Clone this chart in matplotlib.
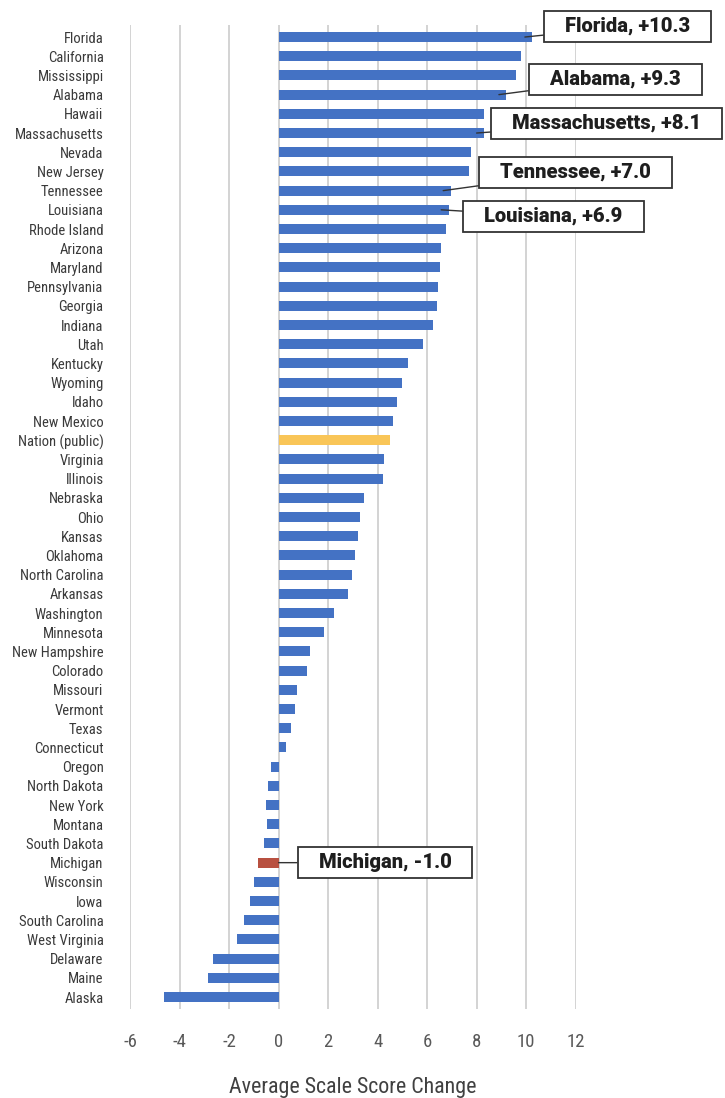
import matplotlib.pyplot as plt
from matplotlib import font_manager
import numpy as np

# states ordered top to bottom
states = ["Florida", "California", "Mississippi", "Alabama", "Hawaii", "Massachusetts",
          "Nevada", "New Jersey", "Tennessee", "Louisiana", "Rhode Island", "Arizona",
          "Maryland", "Pennsylvania", "Georgia", "Indiana", "Utah", "Kentucky", "Wyoming",
          "Idaho", "New Mexico", "Nation (public)", "Virginia", "Illinois", "Nebraska",
          "Ohio", "Kansas", "Oklahoma", "North Carolina", "Arkansas", "Washington",
          "Minnesota", "New Hampshire", "Colorado", "Missouri", "Vermont", "Texas",
          "Connecticut", "Oregon", "North Dakota", "New York", "Montana", "South Dakota",
          "Michigan", "Wisconsin", "Iowa", "South Carolina", "West Virginia", "Delaware",
          "Maine", "Alaska"]
changes = [10.25, 9.8, 9.6, 9.2, 8.3, 8.3,
           7.76, 7.7, 6.95, 6.87, 6.77, 6.57,
           6.53, 6.44, 6.4, 6.24, 5.84, 5.23, 4.99,
           4.79, 4.63, 4.51, 4.26, 4.22, 3.45,
           3.3, 3.2, 3.09, 2.97, 2.81, 2.24,
           1.84, 1.27, 1.15, 0.75, 0.67, 0.51,
           0.3, -0.3, -0.42, -0.51, -0.46, -0.59,
           -0.83, -0.99, -1.15, -1.39, -1.68, -2.65,
           -2.85, -4.63]

# callouts: state, text, box centre (data units)
callouts = [("Florida", "Florida, +10.3", 14.1, -0.55),
            ("Alabama", "Alabama, +9.3", 13.6, 2.2),
            ("Massachusetts", "Massachusetts, +8.1", 13.25, 4.5),
            ("Tennessee", "Tennessee, +7.0", 12.0, 7.05),
            ("Louisiana", "Louisiana, +6.9", 11.1, 9.35),
            ("Michigan", "Michigan, -1.0", 4.3, 43.0)]

blue = "#4472C4"
colors = [blue] * len(states)
colors[states.index("Nation (public)")] = "#F9C557"
colors[states.index("Michigan")] = "#B85040"

# pick a narrow face if one is around
fonts = font_manager.fontManager.ttflist
names = {f.name for f in fonts}
scale = 1.0
if "Roboto Condensed" in names:
    fam = "Roboto Condensed"
elif "Liberation Sans Narrow" in names:
    fam = "Liberation Sans Narrow"
else:
    fam = "Roboto"
    scale = 0.88
narrow = [fam, "DejaVu Sans"]
boxfont = ["Roboto", "DejaVu Sans"]

fig = plt.figure(figsize=(7.25, 10.98), dpi=100)
ax = fig.add_axes([0.1793, 0.081, 0.6147, 0.8962])

y = np.arange(len(states))
ax.barh(y, changes, height=0.52, color=colors, zorder=3)

ax.set_xlim(-6, 12)
ax.set_ylim(len(states) - 1 + 0.625, -0.625)
ax.set_xticks(np.arange(-6, 13, 2))
ax.set_xticklabels([str(t) for t in range(-6, 13, 2)], family=narrow,
                   fontsize=13.5 * scale, color="#595959")
ax.set_yticks(y)
ax.set_yticklabels(states, family=narrow, fontsize=10.5 * scale, color="#3a3a3a")
ax.tick_params(axis="both", length=0)
ax.tick_params(axis="y", pad=19)
ax.tick_params(axis="x", pad=17)
ax.grid(axis="x", color="#D0D0D0", linewidth=1.3, zorder=0)
for s in ax.spines.values():
    s.set_visible(False)

ax.set_xlabel("Average Scale Score Change", family=narrow,
              fontsize=15.8 * scale, color="#404040", labelpad=19)

for st, txt, bx, by in callouts:
    i = states.index(st)
    v = changes[i]
    px = v - 0.3 if v > 0 else 0
    ax.annotate("   " + txt + "   ", xy=(px, i), xytext=(bx, by), ha="center", va="center",
                family=boxfont, fontweight="heavy",
                fontsize=14.5, color="#1e1e1e", annotation_clip=False, zorder=5,
                bbox=dict(boxstyle="square,pad=0.3", fc="white", ec="#333333", lw=1.3),
                arrowprops=dict(arrowstyle="-", color="#333333", lw=1.0, shrinkA=0, shrinkB=0))

plt.savefig("out.png", dpi=100)
